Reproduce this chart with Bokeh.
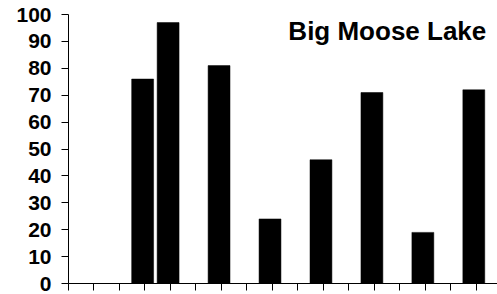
from bokeh.plotting import figure
from bokeh.models import ColumnDataSource, FixedTicker, Label, Range1d, CustomJSTickFormatter
from bokeh.embed import file_html
from bokeh.resources import INLINE

# Data (17 category slots, empty slots = None)
slots = list(range(17))
values = [None, None, None, 76, 97, None, 81, None, 24, None, 46, None, 71, None, 19, None, 72]
title_text = "Big Moose Lake"
y_ticks = [0, 10, 20, 30, 40, 50, 60, 70, 80, 90, 100]

xs = [s for s, v in zip(slots, values) if v is not None]
ys = [v for v in values if v is not None]
src = ColumnDataSource(data=dict(x=[x - 0.09 for x in xs], top=ys))

p = figure(width=497, height=294, output_backend="svg", toolbar_location=None,
           x_range=Range1d(0, 16.84), y_range=Range1d(0, 100),
           min_border_left=68, min_border_right=0, min_border_top=14, min_border_bottom=11)

p.vbar(x="x", top="top", bottom=0, width=0.86, source=src,
       fill_color="black", line_color="black", line_width=0.5)

p.xgrid.visible = False
p.ygrid.visible = False
p.outline_line_color = None
p.background_fill_color = "white"

FONT = "Liberation Sans"

ya = p.yaxis[0]
ya.ticker = FixedTicker(ticks=y_ticks)
ya.major_tick_out = 7
ya.major_tick_in = 0
ya.minor_tick_out = 0
ya.minor_tick_in = 0
ya.axis_line_color = "black"
ya.major_tick_line_color = "black"
ya.major_label_text_font = FONT
ya.major_label_text_font_style = "bold"
ya.major_label_text_font_size = "21px"
ya.major_label_text_color = "black"
ya.major_label_standoff = 10

xa = p.xaxis[0]
xa.ticker = FixedTicker(ticks=slots)
xa.formatter = CustomJSTickFormatter(code="return '';")
xa.major_tick_out = 7
xa.major_tick_in = 0
xa.minor_tick_out = 0
xa.minor_tick_in = 0
xa.axis_line_color = "black"
xa.major_tick_line_color = "black"
xa.major_label_text_font_size = "0px"
xa.major_label_standoff = 0

lbl = Label(x=16.4, y=94, text=title_text, text_align="right", text_baseline="alphabetic",
            text_font=FONT, text_font_style="bold", text_font_size="26px", text_color="black")
p.add_layout(lbl)

open("out.html", "w").write(file_html(p, INLINE))
